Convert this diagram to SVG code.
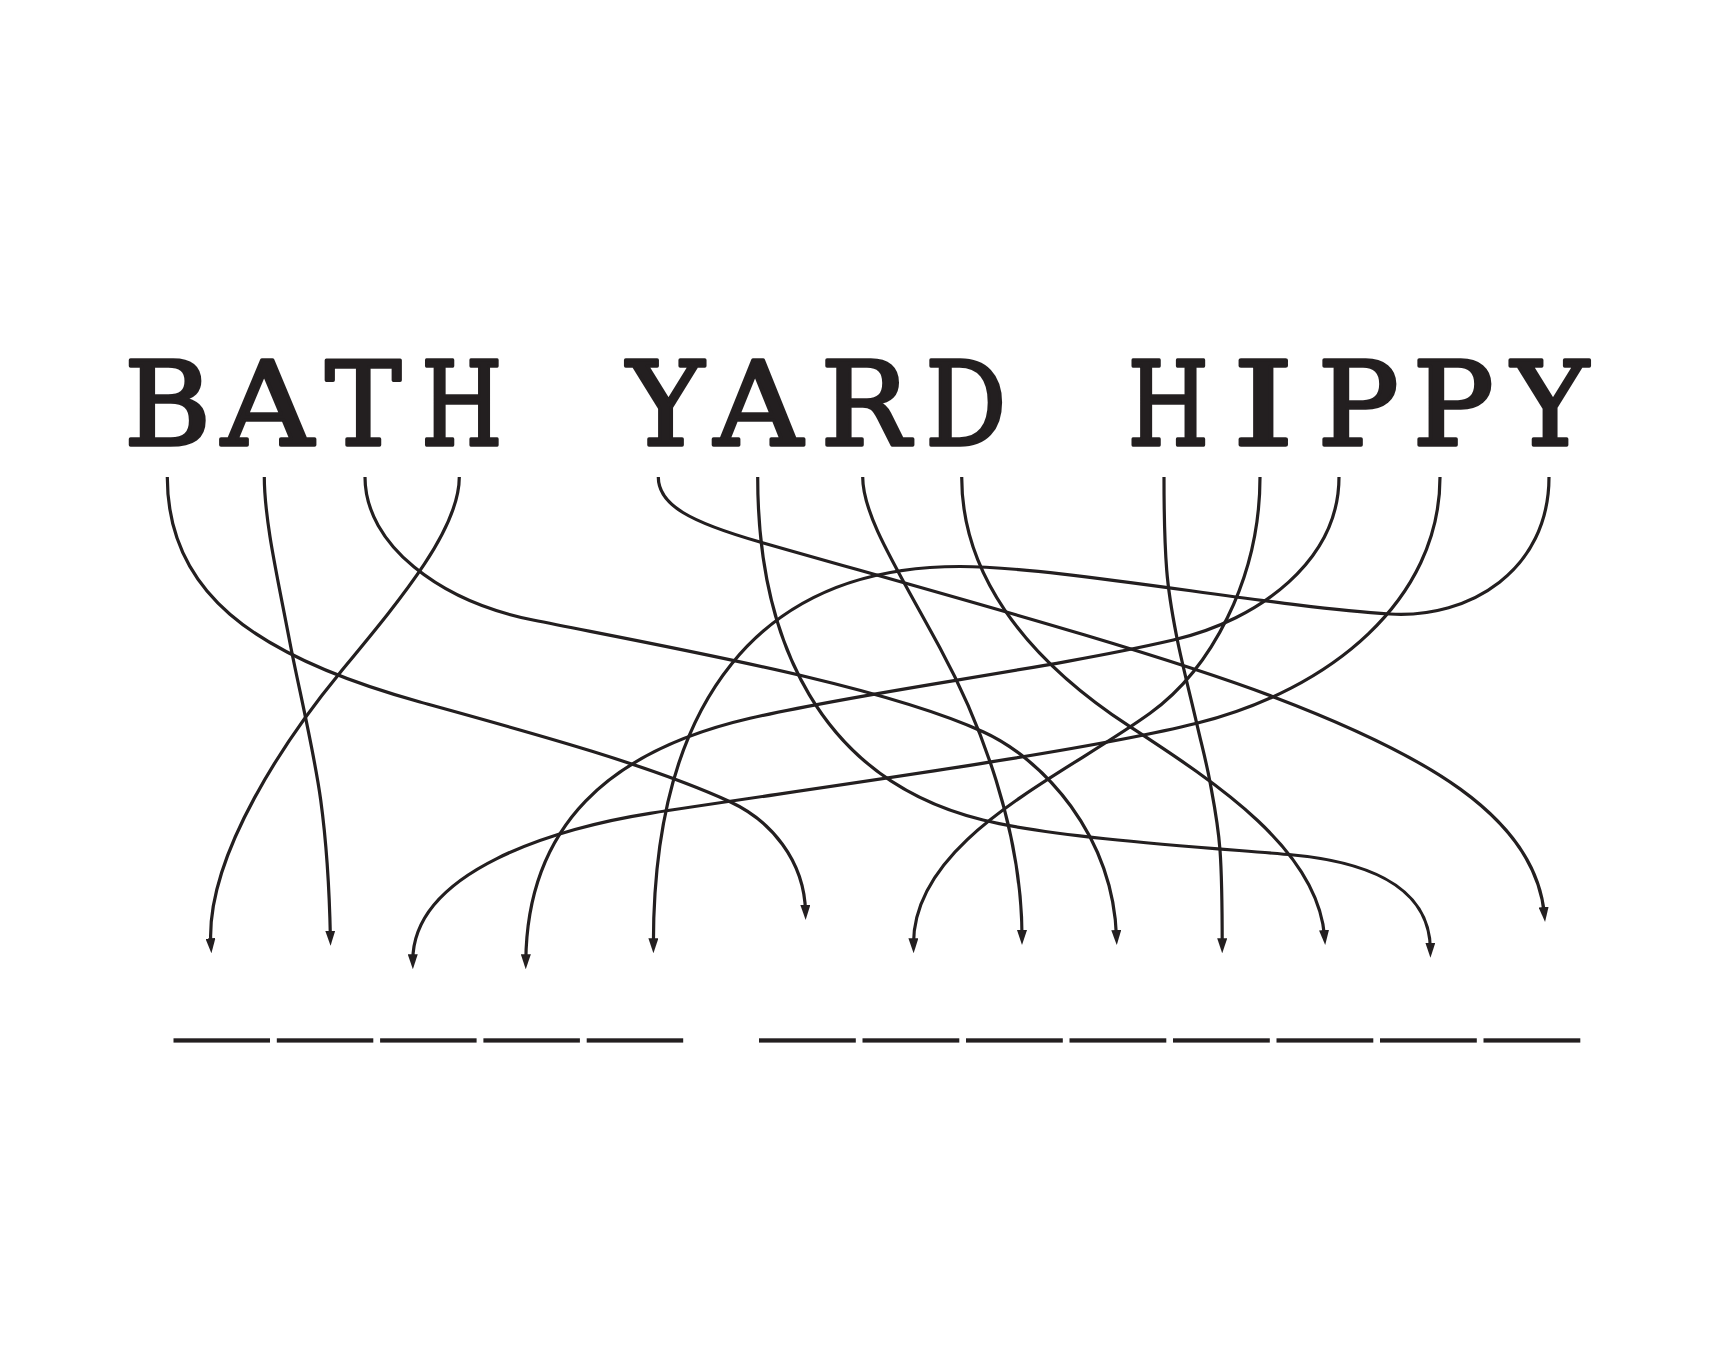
<svg xmlns="http://www.w3.org/2000/svg" width="1725" height="1350" viewBox="0 0 1725 1350">
<style>
.lt{font-family:"DejaVu Serif","Liberation Serif",serif;font-weight:normal;font-size:116.3px;fill:#231f20;stroke:#231f20;stroke-width:3.5;stroke-linejoin:round;text-anchor:middle}
.c{fill:none;stroke:#231f20;stroke-width:3.2;marker-end:url(#ah)}
.bl{fill:#231f20}
</style>
<defs>
<marker id="ah" viewBox="0 0 15 10" refX="7" refY="5" markerWidth="15" markerHeight="10" markerUnits="userSpaceOnUse" orient="auto"><path d="M0,0 L15,5 L0,10 z" fill="#231f20"/></marker>
</defs>
<rect width="1725" height="1350" fill="#fff"/>
<g id="word-BATH">
<g id="n-B1"><text class="lt" transform="translate(167.5,444.5) scale(1.02,1)">B</text></g>
<g id="n-A1"><text class="lt" transform="translate(267.5,444.5) scale(1.09,1)">A</text></g>
<g id="n-T1"><text class="lt" transform="translate(363.3,444.5) scale(0.98,1)">T</text></g>
<g id="n-H1"><text class="lt" transform="translate(461.7,444.5) scale(0.8,1)">H</text></g>
</g>
<g id="word-YARD">
<g id="n-Y1"><text class="lt" transform="translate(665.3,444.5) scale(1,1)">Y</text></g>
<g id="n-A2"><text class="lt" transform="translate(758.4,444.5) scale(1.05,1)">A</text></g>
<g id="n-R1"><text class="lt" transform="translate(865.2,444.5) scale(1.02,1)">R</text></g>
<g id="n-D1"><text class="lt" transform="translate(965.9,444.5) scale(0.87,1)">D</text></g>
</g>
<g id="word-HIPPY">
<g id="n-H2"><text class="lt" transform="translate(1168.3,444.5) scale(0.8,1)">H</text></g>
<g id="n-I1"><text class="lt" transform="translate(1263.3,444.5) scale(1.35,1)">I</text></g>
<g id="n-P1"><text class="lt" transform="translate(1358.3,444.5) scale(1.04,1)">P</text></g>
<g id="n-P2"><text class="lt" transform="translate(1453.3,444.5) scale(1.04,1)">P</text></g>
<g id="n-Y2"><text class="lt" transform="translate(1550,444.5) scale(1,1)">Y</text></g>
</g>
<g id="connectors">
<path id="e-B" class="c" d="M167.3,477 C167.3,590 250,655 420,702 C530,732.4 650,765 730,801.7 C770,820.1 804.5,860 805.5,912"/>
<path id="e-A1" class="c" d="M264.3,477 C264.3,497 265.7,509 270,536.7 C274.3,564.4 281.6,599.1 290,643 C298.45,686.9 314,750.9 320.7,800 C327.4,849.1 329.5,892.7 330.4,937.7"/>
<path id="e-T" class="c" d="M365,477 C365,545 440,601.4 533,620 C683,650 880,685 983,731.7 C1043,758.9 1113,835 1116.5,937"/>
<path id="e-H1" class="c" d="M459.3,477 C459.3,530 400,600 340,672.7 C290,733.3 205,855 210.9,945.3"/>
<path id="e-Y1" class="c" d="M658.3,477 C658.3,505 690,522 760,542 C930,590.6 1150,650 1273,696.7 C1420,752.5 1535,815 1544.3,914"/>
<path id="e-A2" class="c" d="M757.7,477 C757.7,640 820,780 983,820 C1063,839.6 1230,849 1293.3,855 C1353.3,860.7 1430,880 1430.4,949.7"/>
<path id="e-R" class="c" d="M862.7,477 C862.7,515 895,565 940,648 C980,721.7 1022,830 1022,937"/>
<path id="e-D" class="c" d="M961.7,477 C961.7,570 1020,655 1130,726.7 C1218,784.1 1318,850 1324.6,937"/>
<path id="e-H2" class="c" d="M1164,477 C1164,508 1164.6,543.4 1166.7,570 C1168.8,596.6 1171.7,611.1 1176.7,636.7 C1181.7,662.3 1191.15,699.1 1196.7,723.3 C1202.25,747.5 1206.1,760.9 1210,782 C1213.9,803.1 1218,822.8 1220,850 C1222,877.2 1222.2,915.3 1222.2,945.3"/>
<path id="e-I" class="c" d="M1260,477 C1260,580 1210,670 1150,713.3 C1060,778.2 912,840 913.5,945.3"/>
<path id="e-P1" class="c" d="M1339,477 C1339,560 1260,620 1173.3,640 C1043.3,670 870,690.5 750,718.3 C610,750.7 527,825 525.8,961.3"/>
<path id="e-P2" class="c" d="M1440,477 C1440,600 1330,690 1196.7,723.3 C1076.7,753.3 800,790 650,813.3 C560,827.3 412,870 412.8,961.3"/>
<path id="e-Y2" class="c" d="M1549,477 C1549,570 1470,618.8 1390,614 C1270,606.8 1060,566.5 960,566.5 C760,566.5 653,700 653.4,945.3"/>
</g>
<g id="blanks">
<rect class="bl" x="173.5" y="1038.3" width="96.5" height="4.3"/>
<rect class="bl" x="276.8" y="1038.3" width="96.5" height="4.3"/>
<rect class="bl" x="380.1" y="1038.3" width="96.5" height="4.3"/>
<rect class="bl" x="483.4" y="1038.3" width="96.5" height="4.3"/>
<rect class="bl" x="586.7" y="1038.3" width="96.5" height="4.3"/>
<rect class="bl" x="759" y="1038.3" width="96.8" height="4.3"/>
<rect class="bl" x="862.5" y="1038.3" width="96.8" height="4.3"/>
<rect class="bl" x="966" y="1038.3" width="96.8" height="4.3"/>
<rect class="bl" x="1069.5" y="1038.3" width="96.8" height="4.3"/>
<rect class="bl" x="1173" y="1038.3" width="96.8" height="4.3"/>
<rect class="bl" x="1276.5" y="1038.3" width="96.8" height="4.3"/>
<rect class="bl" x="1380" y="1038.3" width="96.8" height="4.3"/>
<rect class="bl" x="1483.5" y="1038.3" width="96.8" height="4.3"/>
</g>
</svg>
